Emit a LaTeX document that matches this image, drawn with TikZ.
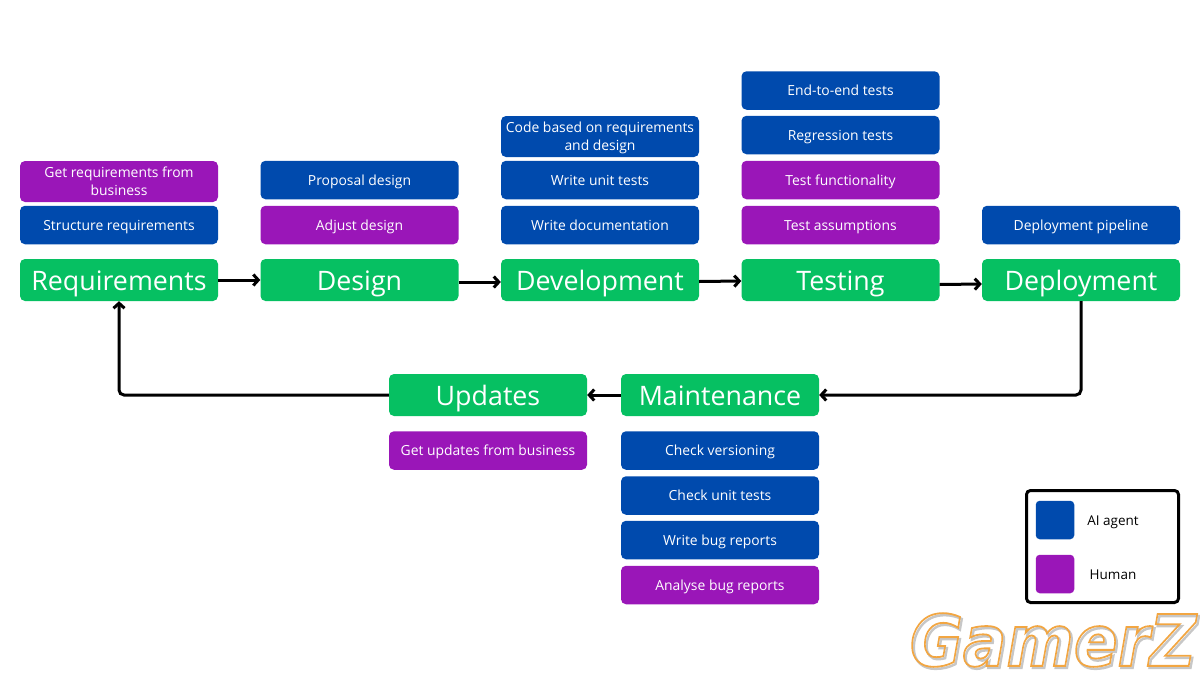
\documentclass[tikz,border=0pt]{standalone}
\usepackage{fontspec}
\setmainfont{Open Sans}
\newfontfamily\markfont{DejaVu Sans}
\usetikzlibrary{arrows.meta}
\definecolor{stepgreen}{RGB}{6,192,98}
\definecolor{agentblue}{RGB}{0,74,173}
\definecolor{humanpurple}{RGB}{154,22,184}
\newcommand{\strokedtext}[3]{\special{pdf:code q 1 Tr #2 w #3 RG}#1\special{pdf:code Q}}

\begin{document}
\begin{tikzpicture}[x=1pt,y=-1pt]
\tikzstyle{phase}=[fill=stepgreen,text=white,rounded corners=5pt,minimum width=198pt,minimum height=42pt,inner sep=0pt,text height=24pt,text depth=3.4pt,font=\fontsize{26.8}{30}\selectfont]
\tikzstyle{task}=[text=white,rounded corners=5pt,minimum width=198pt,minimum height=38.5pt,inner sep=0pt,align=center,text height=12pt,text depth=2pt,font=\fontsize{13.9}{18.4}\selectfont]
\tikzstyle{twolines}=[minimum height=41pt,text height=30.4pt]
\tikzstyle{agent}=[task,fill=agentblue]
\tikzstyle{human}=[task,fill=humanpurple]
\tikzstyle{swatch}=[rounded corners=4pt,minimum size=38.5pt,inner sep=0pt]
\tikzstyle{keylabel}=[text height=12pt,text depth=2pt,inner sep=0pt,font=\fontsize{13.5}{16}\selectfont]
\tikzstyle{flow}=[line width=3pt,rounded corners=5pt,-{Straight Barb[length=5pt,width=11pt]}]
\useasboundingbox (0,0) rectangle (1200,675);

% the phases
\node[phase] (req) at (119,280) {Requirements};
\node[phase] (des) at (359.5,280) {Design};
\node[phase] (dev) at (600,280) {Development};
\node[phase] (tes) at (840.5,280) {Testing};
\node[phase] (dep) at (1081,280) {Deployment};
\node[phase] (mai) at (720,395) {Maintenance};
\node[phase] (upd) at (488,395) {Updates};

\node[human,twolines] (req1) at (119,181.5) {Get requirements from\\business};
\node[agent] (req2) at (119,225) {Structure requirements};

\node[agent] (des1) at (359.5,180) {Proposal design};
\node[human] (des2) at (359.5,225) {Adjust design};

\node[agent,twolines] (dev1) at (600,136.5) {Code based on requirements\\and design};
\node[agent] (dev2) at (600,180) {Write unit tests};
\node[agent] (dev3) at (600,225) {Write documentation};

\node[agent] (tes1) at (840.5,90.5) {End-to-end tests};
\node[agent] (tes2) at (840.5,135) {Regression tests};
\node[human] (tes3) at (840.5,180) {Test functionality};
\node[human] (tes4) at (840.5,225) {Test assumptions};

\node[agent] (dep1) at (1081,225) {Deployment pipeline};

\node[human] (upd1) at (488,450.5) {Get updates from business};

\node[agent] (mai1) at (720,450.5) {Check versioning};
\node[agent] (mai2) at (720,495.5) {Check unit tests};
\node[agent] (mai3) at (720,540) {Write bug reports};
\node[human] (mai4) at (720,585) {Analyse bug reports};

\draw[flow] (req.east) -- (des.west);
\draw[flow] ([yshift=-2pt]des.east) -- ([yshift=-2pt]dev.west);
\draw[flow] ([yshift=-1.5pt]dev.east) -- ([yshift=-1pt]tes.west);
\draw[flow] ([yshift=-4.5pt]tes.east) -- ([yshift=-4pt]dep.west);
\draw[flow] (dep.south) |- (mai.east);
\draw[flow] (mai.west) -- (upd.east);
\draw[flow] (upd.west) -| (req.south);

% legend
\node[draw=black,line width=3pt,rounded corners=4pt,minimum width=152pt,minimum height=112pt,inner sep=0pt] (key) at (1102.5,546.5) {};
\node[swatch,fill=agentblue] (keyagent) at (1055,520) {};
\node[swatch,fill=humanpurple] (keyhuman) at (1055,574) {};
\node[keylabel] (agentlabel) at (1113,520) {AI agent};
\node[keylabel] (humanlabel) at (1113,574) {Human};

% watermark
\node[inner sep=0pt,xscale=.91,transform shape,font=\fontsize{71}{80}\markfont\bfseries\itshape] (mark) at (1053,641) {\rlap{\hspace{2pt}\raisebox{-2pt}{\strokedtext{GamerZ}{2.5}{0.78 0.78 0.78}}}\strokedtext{GamerZ}{1.8}{0.95 0.65 0.26}};
\end{tikzpicture}
\end{document}
